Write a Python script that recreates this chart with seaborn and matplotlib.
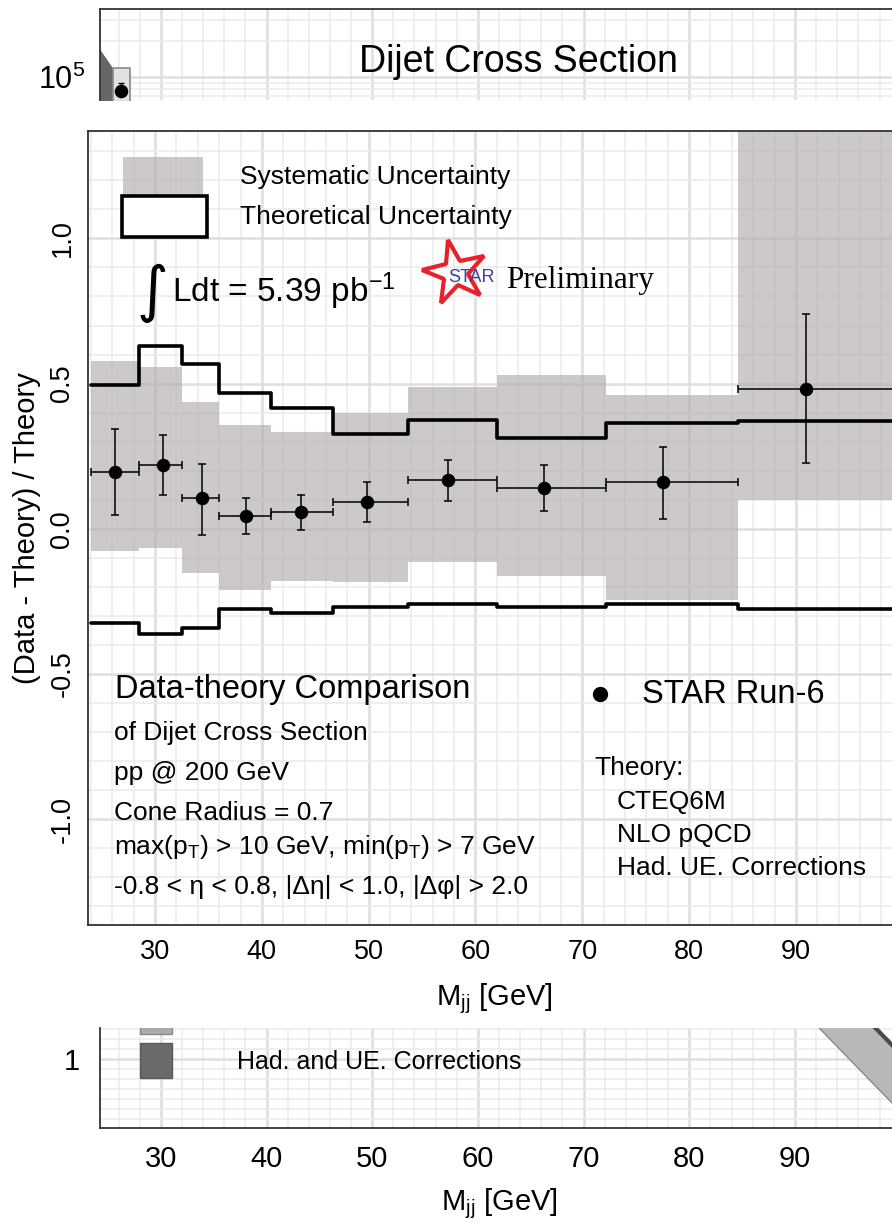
import matplotlib.pyplot as plt
from matplotlib.markers import MarkerStyle
from matplotlib.patches import Rectangle
from matplotlib.ticker import MultipleLocator, LogLocator, NullFormatter
import numpy as np
import pandas as pd
import seaborn as sns

# ---- main panel: (Data - Theory) / Theory vs M_jj ----
edges = [24.0, 28.5, 32.5, 36.0, 40.9, 46.7, 53.7, 62.0, 72.2, 84.6, 101.0]
mjj = [26.25, 30.78, 34.37, 38.49, 43.64, 49.82, 57.46, 66.45, 77.6, 90.96]
ratio = [0.196, 0.221, 0.106, 0.045, 0.057, 0.091, 0.167, 0.140, 0.161, 0.482]
stat_hi = [0.345, 0.322, 0.224, 0.107, 0.117, 0.161, 0.238, 0.220, 0.282, 0.740]
stat_lo = [0.048, 0.117, -0.021, -0.018, -0.003, 0.022, 0.094, 0.060, 0.034, 0.227]

sys_hi = [0.577, 0.556, 0.436, 0.359, 0.333, 0.399, 0.487, 0.531, 0.459, 1.60]
sys_lo = [-0.078, -0.067, -0.153, -0.210, -0.179, -0.182, -0.115, -0.164, -0.245, 0.100]

theo_hi = [0.494, 0.629, 0.566, 0.468, 0.416, 0.328, 0.376, 0.313, 0.365, 0.372]
theo_lo = [-0.325, -0.363, -0.342, -0.277, -0.291, -0.270, -0.261, -0.268, -0.261, -0.275]

# ---- top strip (cross section, cut off) ----
top_mjj = [26.25]
top_xsec = [7.6e4]
top_err_hi = [9.0e4]
top_box_x = [25.45, 27.09]
top_box_y = [3.0e4, 1.19e5]
wedge_x = [24.2, 25.45]
wedge_hi = [1.72e5, 1.19e5]

# ---- bottom strip (corrections, cut off) ----
band_x = [90.0, 100.0]
band_lo = [1.279, 0.735]
band_hi = [1.569, 1.025]

sns.set_style('white')
plt.rcParams['font.family'] = ['Liberation Sans', 'DejaVu Sans']
plt.rcParams['mathtext.default'] = 'regular'
plt.rcParams['axes.unicode_minus'] = False
for k in ['text.color', 'axes.labelcolor', 'xtick.labelcolor', 'ytick.labelcolor']:
    plt.rcParams[k] = 'black'

W, H = 892, 1223
fig = plt.figure(figsize=(W / 100, H / 100), dpi=100)


def box(l, t, r, b):
    return [l / W, 1 - b / H, (r - l) / W, (b - t) / H]


def style_grid(ax):
    ax.set_axisbelow(True)
    ax.grid(which='major', color='#dedede', lw=1.8)
    ax.grid(which='minor', color='#ebebeb', lw=1.1)
    ax.tick_params(which='minor', length=0)
    for s in ax.spines.values():
        s.set_color('#333333')
        s.set_linewidth(1.3)


# ================= main panel =================
ax = fig.add_axes(box(88, 131, 900, 925))
ax.set_xlim(23.72, 99.75)
ax.set_ylim(-1.365, 1.37)
ax.xaxis.set_major_locator(MultipleLocator(10))
ax.xaxis.set_minor_locator(MultipleLocator(2))
ax.yaxis.set_major_locator(MultipleLocator(0.5))
ax.yaxis.set_minor_locator(MultipleLocator(0.1))
style_grid(ax)

ax.stairs(sys_hi, edges, baseline=sys_lo, fill=True, color='#b2adad',
          alpha=0.65, lw=0, zorder=1)

steps = pd.DataFrame({'x': edges,
                      'hi': theo_hi + theo_hi[-1:],
                      'lo': theo_lo + theo_lo[-1:]})
for col in ['hi', 'lo']:
    sns.lineplot(data=steps, x='x', y=col, drawstyle='steps-post', color='black',
                 lw=2.6, estimator=None, ax=ax, zorder=3)

pts = pd.DataFrame({'mjj': mjj, 'ratio': ratio})
m = np.array(mjj)
r = np.array(ratio)
e = np.array(edges)
ax.errorbar(m, r, xerr=[m - e[:-1], e[1:] - m],
            yerr=[r - np.array(stat_lo), np.array(stat_hi) - r],
            fmt='none', ecolor='black', elinewidth=1.1, capsize=2.6,
            capthick=1.1, zorder=4)
sns.scatterplot(data=pts, x='mjj', y='ratio', color='black', s=95, linewidth=0,
                zorder=5, ax=ax, legend=False)

ax.set_xlabel('M$_{jj}$ [GeV]', fontsize=21, labelpad=12)
ax.set_ylabel('(Data - Theory) / Theory', fontsize=21, labelpad=6)
ax.tick_params(axis='x', labelsize=19.5, length=5, pad=5, color='#333333')
ax.tick_params(axis='y', labelsize=19.5, length=5, pad=4, color='#333333',
               labelrotation=90)
for t in ax.get_yticklabels():
    t.set_va('center')

# legend-like annotations
T = ax.transAxes
ax.add_patch(Rectangle((0.0431, 0.9194), 0.0985, 0.0479, transform=T,
                       facecolor='#b2adad', alpha=0.65, lw=0, zorder=6))
ax.add_patch(Rectangle((0.0419, 0.8665), 0.1047, 0.0516, transform=T,
                       facecolor='white', edgecolor='black', lw=2.6, zorder=6))
ax.text(0.1872, 0.9421, 'Systematic Uncertainty', transform=T, fontsize=19,
        va='center', zorder=7)
ax.text(0.1872, 0.8917, 'Theoretical Uncertainty', transform=T, fontsize=19,
        va='center', zorder=7)

ax.text(0.0995, 0.796, '\u222b', transform=T, fontsize=44, ha='right',
        va='center', family=['DejaVu Sans'], zorder=7)
ax.text(0.1035, 0.7985, 'Ldt = 5.39 pb$^{-1}$', transform=T, fontsize=24,
        va='center', zorder=7)

star = MarkerStyle('*').rotated(deg=12)
ax.plot([0.452], [0.821], transform=T, marker=star, ms=48, mfc='none',
        mec='#e8222a', mew=3, zorder=7)
ax.text(0.4717, 0.816, 'STAR', transform=T, fontsize=13, color='#3c3ca8',
        ha='center', va='center', zorder=8)
ax.text(0.5148, 0.8123, 'Preliminary', transform=T, fontsize=22.5,
        family=['Liberation Serif'], va='center', zorder=7)

ax.text(0.0333, 0.296, 'Data-theory Comparison', transform=T, fontsize=23.5,
        va='center', zorder=7)
info = ['of Dijet Cross Section', 'pp @ 200 GeV', 'Cone Radius = 0.7',
        'max(p$_T$) > 10 GeV, min(p$_T$) > 7 GeV',
        '-0.8 < \u03b7 < 0.8, |\u0394\u03b7| < 1.0, |\u0394\u03c6| > 2.0']
for txt, fy in zip(info, [0.2418, 0.1914, 0.1414, 0.0986, 0.0479]):
    ax.text(0.032, fy, txt, transform=T, fontsize=19, va='center', zorder=7)

ax.plot([0.6305], [0.291], transform=T, marker='o', ms=10, color='black',
        zorder=7)
ax.text(0.6823, 0.2897, 'STAR Run-6', transform=T, fontsize=23.5,
        va='center', zorder=7)
ax.text(0.6232, 0.1977, 'Theory:', transform=T, fontsize=19, va='center',
        zorder=7)
for txt, fy in zip(['CTEQ6M', 'NLO pQCD', 'Had. UE. Corrections'],
                   [0.1553, 0.1134, 0.0718]):
    ax.text(0.6515, fy, txt, transform=T, fontsize=19, va='center', zorder=7)

# ================= top strip =================
axt = fig.add_axes(box(99.5, 9, 900, 100))
axt.set_xlim(24.2, 99.93)
axt.set_yscale('log')
axt.set_ylim(10 ** 4.81, 10 ** 5.567)
axt.xaxis.set_major_locator(MultipleLocator(10))
axt.xaxis.set_minor_locator(MultipleLocator(2))
axt.yaxis.set_major_locator(LogLocator(base=10, numticks=5))
axt.yaxis.set_minor_locator(LogLocator(base=10, subs=np.arange(2, 10), numticks=20))
axt.yaxis.set_minor_formatter(NullFormatter())
style_grid(axt)
axt.spines['bottom'].set_visible(False)
axt.set_xticklabels([])
axt.tick_params(axis='x', length=0)
axt.set_yticks([1e5])
axt.set_yticklabels(['10$^5$'])
axt.tick_params(axis='y', which='major', labelsize=22, length=7, pad=3,
                color='#333333')
axt.fill_between(wedge_x, [1e4, 1e4], wedge_hi, color='#666666', lw=0, zorder=2)
axt.fill_between(top_box_x, [top_box_y[0]] * 2, [top_box_y[1]] * 2,
                 facecolor='#e2e2e2', edgecolor='#888888', lw=1.2, zorder=2)
axt.errorbar(top_mjj, top_xsec,
             yerr=[[0], [top_err_hi[0] - top_xsec[0]]], fmt='none',
             ecolor='black', elinewidth=1, capsize=2.5, zorder=3)
sns.scatterplot(x=top_mjj, y=top_xsec, color='black', s=95, linewidth=0,
                ax=axt, zorder=4, legend=False)
axt.text(0.5228, 0.4176, 'Dijet Cross Section', transform=axt.transAxes,
         fontsize=27, ha='center', va='center')
axt.set_xlabel('')
axt.set_ylabel('')

# ================= bottom strip =================
axb = fig.add_axes(box(99.5, 1028, 900, 1128))
axb.set_xlim(24.2, 99.93)
axb.set_ylim(0.655, 1.155)
axb.xaxis.set_major_locator(MultipleLocator(10))
axb.xaxis.set_minor_locator(MultipleLocator(2))
axb.yaxis.set_major_locator(MultipleLocator(0.5))
axb.yaxis.set_minor_locator(MultipleLocator(0.05))
style_grid(axb)
axb.spines['top'].set_visible(False)
axb.set_yticks([1.0])
axb.set_yticklabels(['1'])
axb.tick_params(axis='y', labelsize=21, length=6, pad=8, color='#333333')
axb.tick_params(axis='x', labelsize=21, length=5, pad=7, color='#333333')
axb.fill_between(band_x, band_lo, band_hi, facecolor='#b8b8b8',
                 edgecolor='none', zorder=2)
sns.lineplot(x=band_x, y=band_hi, color='#4a4a4a', lw=3, ax=axb, zorder=3)
sns.lineplot(x=band_x, y=band_lo, color='#8a8a8a', lw=1, ax=axb, zorder=3)
Tb = axb.transAxes
axb.add_patch(Rectangle((0.0506, 0.94), 0.04, 0.2, transform=Tb,
                        facecolor='#ababab', edgecolor='#888888', lw=1, zorder=4))
axb.add_patch(Rectangle((0.0506, 0.50), 0.04, 0.35, transform=Tb,
                        facecolor='#6a6a6a', edgecolor='#5a5a5a', lw=1, zorder=4))
axb.text(0.1712, 0.66, 'Had. and UE. Corrections', transform=Tb, fontsize=18,
         va='center', zorder=5)
axb.set_xlabel('M$_{jj}$ [GeV]', fontsize=21, labelpad=10)
axb.set_ylabel('')

fig.savefig('out.png', dpi=100)
